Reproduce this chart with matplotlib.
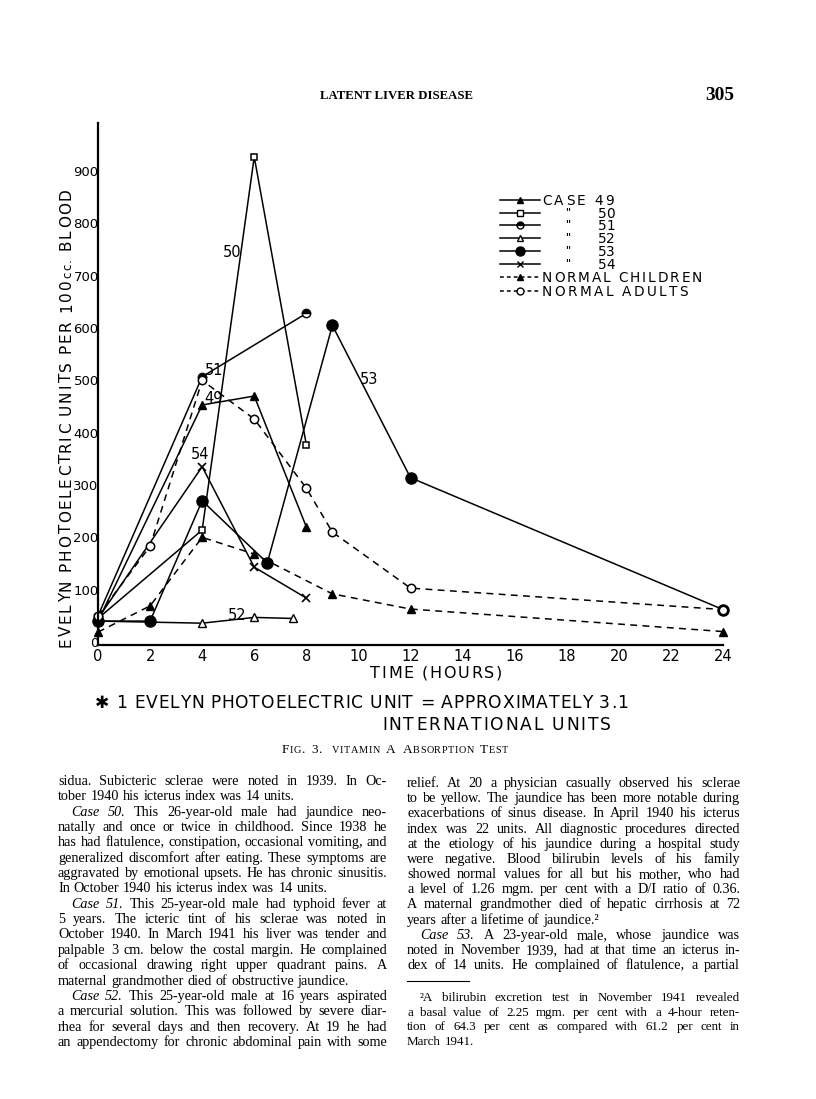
import matplotlib
matplotlib.use("Agg")
import matplotlib.pyplot as plt
from matplotlib.lines import Line2D

# ---------------- data ----------------
case49_t = [0, 4, 6, 8]
case49_v = [40, 453, 470, 220]
case50_t = [0, 4, 6, 8]
case50_v = [45, 214, 927, 377]
case51_t = [0, 4, 8]
case51_v = [50, 507, 628]
case52_t = [0, 4, 6, 7.5]
case52_v = [40, 36, 47, 45]
case53_t = [0, 2, 4, 6.5, 9, 12, 24]
case53_v = [40, 40, 270, 151, 605, 314, 62]
case54_t = [0, 4, 6, 8]
case54_v = [45, 335, 143, 84]
children_t = [0, 2, 4, 6, 9, 12, 24]
children_v = [19, 69, 200, 168, 92, 63, 20]
adults_t = [0, 2, 4, 6, 8, 9, 12, 24]
adults_v = [50, 183, 500, 426, 294, 210, 103, 62]

x_ticks = list(range(0, 25, 2))
y_ticks = list(range(0, 1000, 100))

W, H = 816, 1099
fig = plt.figure(figsize=(W / 100, H / 100), dpi=100)
fig.patch.set_facecolor("white")
renderer = fig.canvas.get_renderer()
SANS = "DejaVu Sans"
SERIF = "Liberation Serif"


def fx(x):
    return x / W


def fy(y):
    return 1 - y / H


def wid(t):
    return t.get_window_extent(renderer).width


def tracked(start, base, s, size, end=None, track=None, vertical=False,
            sizes=None, family=SANS):
    """Letter-spaced text.
    Horizontal: runs from x=start to x=end (px) on baseline y=base.
    Vertical (rotated 90): runs upward from y=start to y=end (px from top),
    baseline at x=base."""
    arts, widths = [], []
    for i, ch in enumerate(s):
        sz = sizes[i] if sizes else size
        if ch == " ":
            arts.append(None)
            widths.append(sz * 100 / 72 * 0.30)
            continue
        t = fig.text(0, 0, ch, fontsize=sz, family=family, va="baseline",
                     ha="left", rotation_mode="anchor")
        arts.append(t)
        widths.append(wid(t))
    n = len(s)
    if end is not None:
        track = (abs(end - start) - sum(widths)) / (n - 1)
    pos = start
    for t, w in zip(arts, widths):
        if t is not None:
            if vertical:
                t.set_rotation(90)
                t.set_position((fx(base), fy(pos)))
            else:
                t.set_position((fx(pos), fy(base)))
        pos += -(w + track) if vertical else (w + track)
    return track


# ---------------- chart ----------------
ax = fig.add_axes([fx(98), fy(645), (723 - 98) / W, (645 - 123) / H])
ax.set_xlim(0, 24)
ax.set_ylim(-5.7, 991.8)
for sp in ("top", "right"):
    ax.spines[sp].set_visible(False)
for sp in ("left", "bottom"):
    ax.spines[sp].set_linewidth(1.6)
ax.set_xticks(x_ticks)
ax.set_xticklabels([str(v) for v in x_ticks], fontsize=10.5, family=SANS)
ax.set_yticks(y_ticks)
ax.set_yticklabels([str(v) for v in y_ticks], fontsize=9.5, family=SANS)
ax.tick_params(axis="both", length=0)
ax.tick_params(axis="y", pad=-0.5)
ax.tick_params(axis="x", pad=3)
ax.patch.set_alpha(0)

LW = 1.1
DASH = (4.5, 3.5)
common = dict(color="black", lw=LW, clip_on=False)
ax.plot(case49_t, case49_v, marker="^", ms=6, mfc="black", mec="black", **common)
ax.plot(case50_t, case50_v, marker="s", ms=5, mfc="white", mec="black", mew=1.1, **common)
ax.plot(case51_t, case51_v, marker="o", ms=6, fillstyle="top", mfc="black",
        mfcalt="white", mec="black", **common)
ax.plot(case52_t, case52_v, marker="^", ms=6, mfc="white", mec="black", mew=1.0, **common)
ax.plot(case53_t, case53_v, marker="o", ms=8, mfc="black", mec="black", **common)
ax.plot(case54_t, case54_v, marker="x", ms=6, mew=1.2, **common)
ax.plot(children_t, children_v, marker="^", ms=6, mfc="black", mec="black",
        dashes=DASH, **common)
ax.plot(adults_t, adults_v, marker="o", ms=6, mfc="white", mec="black", mew=1.1,
        dashes=DASH, **common)

lab_kw = dict(fontsize=10.5, family=SANS, ha="center", va="center")
ax.text(5.15, 744, "50", **lab_kw)
ax.text(4.45, 518, "51", **lab_kw)
ax.text(4.45, 466, "49", **lab_kw)
ax.text(3.9, 358, "54", **lab_kw)
ax.text(5.35, 50, "52", **lab_kw)
ax.text(10.4, 501, "53", **lab_kw)

# y label: letter-spaced, rotated, "cc." set smaller
ylab = "EVELYN PHOTOELECTRIC UNITS PER 100cc. BLOOD"
cc_at = ylab.index("cc.")
ysizes = [11] * len(ylab)
for k in range(cc_at, cc_at + 3):
    ysizes[k] = 8.5
tracked(647, 71, ylab, 11, end=188, vertical=True, sizes=ysizes)

tracked(370, 678, "TIME (HOURS)", 11.5, end=502)

# ---------------- legend (drawn by hand) ----------------
leg_rows = [
    ("^", "black", "-", "CASE 49", None),
    ("s", "white", "-", None, "50"),
    ("o", "half", "-", None, "51"),
    ("^", "white", "-", None, "52"),
    ("o", "black", "-", None, "53"),
    ("x", "black", "-", None, "54"),
    ("^", "black", "--", "NORMAL CHILDREN", None),
    ("o", "white", "--", "NORMAL ADULTS", None),
]
row_y = [200, 213, 225, 238, 251, 264, 277, 291]
LEG = 9.8
for (mk, face, ls, label, num), yy in zip(leg_rows, row_y):
    kw = dict(color="black", lw=1.1, transform=fig.transFigure)
    if ls == "--":
        kw["dashes"] = (2.5, 2)
    fig.add_artist(Line2D([fx(500), fx(540)], [fy(yy), fy(yy)], **kw))
    mkw = dict(marker=mk, ms=5 if (mk != "o" or face != "black") else 6.5,
               mec="black", mew=1.0, ls="none", transform=fig.transFigure)
    if face == "half":
        mkw.update(fillstyle="top", mfc="black", mfcalt="white")
    elif mk != "x":
        mkw["mfc"] = face
    fig.add_artist(Line2D([fx(520)], [fy(yy)], **mkw))
    base = yy + 5
    if label == "NORMAL CHILDREN":
        tracked(542, base, label, LEG, end=702)
    elif label == "NORMAL ADULTS":
        tracked(542, base, label, LEG, end=688)
    elif label:
        tracked(542, base, label, LEG, end=614)
    if num:
        fig.text(fx(568), fy(yy - 1), '"', fontsize=7, family=SANS,
                 ha="center", va="center", fontweight="bold")
        tracked(598, base, num, LEG, end=615)

# ---------------- notes below chart ----------------
tracked(95, 708, "\u2731 1 EVELYN PHOTOELECTRIC UNIT = APPROXIMATELY 3.1", 12.3, end=628)
tracked(382, 730, "INTERNATIONAL UNITS", 12.3, end=611)


def small_caps(words, center_x, y, big, small, family=SERIF):
    arts = []
    x = 0.0
    space = big * 100 / 72 * 0.45
    for w in words:
        for i, ch in enumerate(w):
            sz = big if (i == 0 or not ch.isalpha()) else small
            t = fig.text(0, 0, ch.upper(), fontsize=sz, family=family, va="baseline")
            arts.append((t, x))
            x += wid(t) + 0.6
        x += space
    total = x - space
    x0 = center_x - total / 2
    for t, dx in arts:
        t.set_position((fx(x0 + dx), fy(y)))


small_caps(["Fig.", "3.", " Vitamin", "A", "Absorption", "Test"], 395, 753, 9.5, 7.4)

# ---------------- running head ----------------
head = fig.text(fx(397), fy(96), "LATENT LIVER DISEASE", family=SERIF,
                fontweight="bold", fontsize=9, ha="center", va="center")
head.set_fontsize(9 * 152 / wid(head))
pg = fig.text(fx(705), fy(95), "305", family=SERIF, fontweight="bold",
              fontsize=12, ha="left", va="center")
pg.set_fontsize(12 * 29 / wid(pg))

# ---------------- body text ----------------
left_lines = [
    "sidua. Subicteric sclerae were noted in 1939. In Oc-",
    "tober 1940 his icterus index was 14 units.",
    "Case 50. This 26-year-old male had jaundice neo-",
    "natally and once or twice in childhood. Since 1938 he",
    "has had flatulence, constipation, occasional vomiting, and",
    "generalized discomfort after eating. These symptoms are",
    "aggravated by emotional upsets. He has chronic sinusitis.",
    "In October 1940 his icterus index was 14 units.",
    "Case 51. This 25-year-old male had typhoid fever at",
    "5 years. The icteric tint of his sclerae was noted in",
    "October 1940. In March 1941 his liver was tender and",
    "palpable 3 cm. below the costal margin. He complained",
    "of occasional drawing right upper quadrant pains. A",
    "maternal grandmother died of obstructive jaundice.",
    "Case 52. This 25-year-old male at 16 years aspirated",
    "a mercurial solution. This was followed by severe diar-",
    "rhea for several days and then recovery. At 19 he had",
    "an appendectomy for chronic abdominal pain with some",
]
left_last = {1, 7, 13}
right_lines = [
    "relief. At 20 a physician casually observed his sclerae",
    "to be yellow. The jaundice has been more notable during",
    "exacerbations of sinus disease. In April 1940 his icterus",
    "index was 22 units. All diagnostic procedures directed",
    "at the etiology of his jaundice during a hospital study",
    "were negative. Blood bilirubin levels of his family",
    "showed normal values for all but his mother, who had",
    "a level of 1.26 mgm. per cent with a D/I ratio of 0.36.",
    "A maternal grandmother died of hepatic cirrhosis at 72",
    "years after a lifetime of jaundice.\u00b2",
    "Case 53. A 23-year-old male, whose jaundice was",
    "noted in November 1939, had at that time an icterus in-",
    "dex of 14 units. He complained of flatulence, a partial",
]
right_last = {9}
foot_lines = [
    "\u00b2A bilirubin excretion test in November 1941 revealed",
    "a basal value of 2.25 mgm. per cent with a 4-hour reten-",
    "tion of 64.3 per cent as compared with 61.2 per cent in",
    "March 1941.",
]
foot_last = {3}


def set_line(line, x0, x1, y, size, justify):
    words = line.split()
    indent = 0
    if words[0] == "Case" or words[0].startswith("\u00b2"):
        indent = 13
    styles = ["normal"] * len(words)
    if words[0] == "Case":
        styles[0] = styles[1] = "italic"
    xs = x0 + indent
    cur = size
    while True:
        texts = [fig.text(0, 0, w, fontsize=cur, family=SERIF, style=s, va="baseline")
                 for w, s in zip(words, styles)]
        widths = [wid(t) for t in texts]
        n = len(texts)
        space = cur * 100 / 72 * 0.27
        if justify and n > 1:
            gap = (x1 - xs - sum(widths)) / (n - 1)
        else:
            gap = space
        if gap >= 2.8 or cur < size * 0.8:
            break
        for t in texts:
            t.remove()
        cur *= 0.98
    x = xs
    for t, w in zip(texts, widths):
        t.set_position((fx(x), fy(y)))
        x += w + gap


BODY = 10.2
for i, ln in enumerate(left_lines):
    set_line(ln, 58, 387, 785 + i * 15.35, BODY, i not in left_last)
for i, ln in enumerate(right_lines):
    set_line(ln, 407, 740, 787 + i * 15.17, BODY, i not in right_last)
fig.add_artist(Line2D([fx(407), fx(469)], [fy(981), fy(981)], color="black", lw=0.8,
                      transform=fig.transFigure))
for i, ln in enumerate(foot_lines):
    set_line(ln, 407, 740, 1001 + i * 14.7, 9.4, i not in foot_last)

fig.savefig("out.png", dpi=100, facecolor="white")
